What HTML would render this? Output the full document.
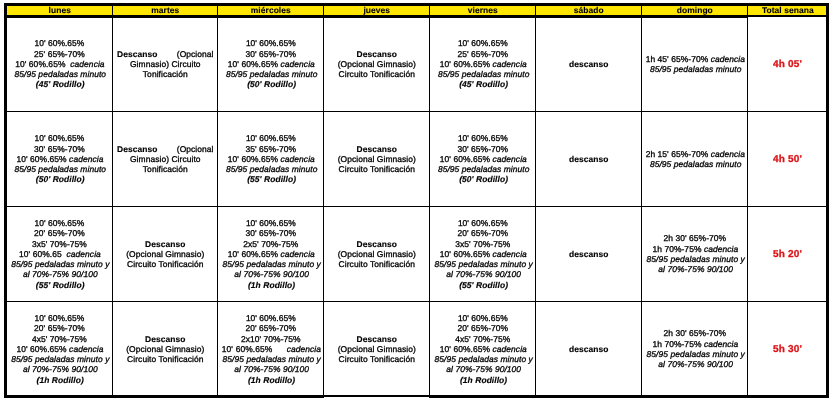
<!DOCTYPE html>
<html lang="es">
<head>
<meta charset="utf-8">
<title>Plan semanal</title>
<style>
html,body{margin:0;padding:0;background:#fff;}
body{width:834px;height:402px;position:relative;overflow:hidden;font-family:"Liberation Sans",Arial,Helvetica,sans-serif;color:#000;text-rendering:geometricPrecision;}
.k{position:absolute;background:#000;}
.y{position:absolute;background:#ffe600;}
.h{position:absolute;height:10px;line-height:10px;font-size:8.45px;letter-spacing:0.07px;font-weight:bold;text-align:center;white-space:nowrap;-webkit-text-stroke:0.1px #000;}
.l{position:absolute;letter-spacing:0.07px;white-space:pre;text-align:center;font-size:8.45px;line-height:10px;height:10px;-webkit-text-stroke:0.3px #000;}
.t{position:absolute;text-align:center;font-size:10px;letter-spacing:0.22px;line-height:12px;height:12px;font-weight:bold;color:#dc1418;white-space:nowrap;-webkit-text-stroke:0.3px #dc1418;}
i{font-style:italic;}
b{font-weight:bold;-webkit-text-stroke-width:0.15px;}
</style>
</head>
<body>

<div class="k" style="left:4px;top:3px;width:825px;height:3px"></div>
<div class="k" style="left:4px;top:395px;width:825px;height:2px"></div>
<div class="k" style="left:4px;top:397px;width:320px;height:1px"></div>
<div class="k" style="left:429px;top:397px;width:400px;height:1px"></div>
<div class="k" style="left:4px;top:3px;width:3px;height:395px"></div>
<div class="k" style="left:826px;top:3px;width:3px;height:395px"></div>
<div class="y" style="left:7px;top:6px;width:819px;height:9px"></div>
<div class="k" style="left:7px;top:15px;width:740px;height:3px"></div>
<div class="k" style="left:747px;top:15px;width:79px;height:2px"></div>
<div class="k" style="left:112px;top:6px;width:1px;height:389px"></div>
<div class="k" style="left:217px;top:6px;width:1px;height:389px"></div>
<div class="k" style="left:323px;top:6px;width:1px;height:389px"></div>
<div class="k" style="left:429px;top:6px;width:1px;height:389px"></div>
<div class="k" style="left:535px;top:6px;width:1px;height:389px"></div>
<div class="k" style="left:641px;top:6px;width:1px;height:389px"></div>
<div class="k" style="left:747px;top:6px;width:1px;height:389px"></div>
<div class="k" style="left:7px;top:111px;width:819px;height:1px"></div>
<div class="k" style="left:7px;top:206px;width:819px;height:1px"></div>
<div class="k" style="left:7px;top:301px;width:819px;height:1px"></div>
<div class="h" id="h0" style="left:7.3px;width:105px;top:5px">lunes</div>
<div class="h" id="h1" style="left:113.3px;width:104px;top:5px">martes</div>
<div class="h" id="h2" style="left:218.3px;width:105px;top:5px">miércoles</div>
<div class="h" id="h3" style="left:324.3px;width:105px;top:5px">jueves</div>
<div class="h" id="h4" style="left:430.3px;width:105px;top:5px">viernes</div>
<div class="h" id="h5" style="left:536.3px;width:105px;top:5px">sábado</div>
<div class="h" id="h6" style="left:642.3px;width:105px;top:5px">domingo</div>
<div class="h" id="h7" style="left:748.8px;width:78px;top:5px">Total senana</div>
<div class="l" id="c0_0_0" style="left:6.9px;top:38px;width:105px;letter-spacing:0.03px">10' 60%.65%</div>
<div class="l" id="c0_0_1" style="left:6.9px;top:49px;width:105px">25' 65%-70%</div>
<div class="l" id="c0_0_2" style="left:7.45px;top:59px;width:105px">10' 60%.65%  <i>cadencia</i></div>
<div class="l" id="c0_0_3" style="left:7.8px;top:69px;width:105px"><i>85/95 pedaladas minuto</i></div>
<div class="l" id="c0_0_4" style="left:7.7px;top:79px;width:105px"><b><i>(45' Rodillo)</i></b></div>
<div class="l" id="c0_1_0" style="left:113.3px;top:49px;width:104px"><b>Descanso</b>        (Opcional</div>
<div class="l" id="c0_1_1" style="left:113.3px;top:59px;width:104px">Gimnasio) Circuito</div>
<div class="l" id="c0_1_2" style="left:113.3px;top:69px;width:104px">Tonificación</div>
<div class="l" id="c0_2_0" style="left:218.3px;top:38px;width:105px;letter-spacing:0.03px">10' 60%.65%</div>
<div class="l" id="c0_2_1" style="left:218.3px;top:49px;width:105px">30' 65%-70%</div>
<div class="l" id="c0_2_2" style="left:218.85px;top:59px;width:105px">10' 60%.65% <i>cadencia</i></div>
<div class="l" id="c0_2_3" style="left:219.2px;top:69px;width:105px"><i>85/95 pedaladas minuto</i></div>
<div class="l" id="c0_2_4" style="left:219.1px;top:79px;width:105px"><b><i>(50' Rodillo)</i></b></div>
<div class="l" id="c0_3_0" style="left:324.3px;top:49px;width:105px"><b>Descanso</b></div>
<div class="l" id="c0_3_1" style="left:324.3px;top:59px;width:105px">(Opcional Gimnasio)</div>
<div class="l" id="c0_3_2" style="left:324.3px;top:69px;width:105px">Circuito Tonificación</div>
<div class="l" id="c0_4_0" style="left:430.3px;top:38px;width:105px;letter-spacing:0.03px">10' 60%.65%</div>
<div class="l" id="c0_4_1" style="left:430.3px;top:49px;width:105px">25' 65%-70%</div>
<div class="l" id="c0_4_2" style="left:430.85px;top:59px;width:105px">10' 60%.65% <i>cadencia</i></div>
<div class="l" id="c0_4_3" style="left:431.2px;top:69px;width:105px"><i>85/95 pedaladas minuto</i></div>
<div class="l" id="c0_4_4" style="left:431.1px;top:79px;width:105px"><b><i>(45' Rodillo)</i></b></div>
<div class="l" id="c0_5_0" style="left:536.3px;top:59px;width:105px"><b>descanso</b></div>
<div class="l" id="c0_6_0" style="left:642.85px;top:54px;width:105px">1h 45' 65%-70% <i>cadencia</i></div>
<div class="l" id="c0_6_1" style="left:643.2px;top:64px;width:105px"><i>85/95 pedaladas minuto</i></div>
<div class="t" id="c0_7_0" style="left:748.6px;top:59px;width:78px">4h 05'</div>
<div class="l" id="c1_0_0" style="left:6.9px;top:133px;width:105px;letter-spacing:0.03px">10' 60%.65%</div>
<div class="l" id="c1_0_1" style="left:6.9px;top:144px;width:105px">30' 65%-70%</div>
<div class="l" id="c1_0_2" style="left:7.45px;top:154px;width:105px">10' 60%.65% <i>cadencia</i></div>
<div class="l" id="c1_0_3" style="left:7.8px;top:164px;width:105px"><i>85/95 pedaladas minuto</i></div>
<div class="l" id="c1_0_4" style="left:7.7px;top:174px;width:105px"><b><i>(50' Rodillo)</i></b></div>
<div class="l" id="c1_1_0" style="left:113.3px;top:144px;width:104px"><b>Descanso</b>        (Opcional</div>
<div class="l" id="c1_1_1" style="left:113.3px;top:154px;width:104px">Gimnasio) Circuito</div>
<div class="l" id="c1_1_2" style="left:113.3px;top:164px;width:104px">Tonificación</div>
<div class="l" id="c1_2_0" style="left:218.3px;top:133px;width:105px;letter-spacing:0.03px">10' 60%.65%</div>
<div class="l" id="c1_2_1" style="left:218.3px;top:144px;width:105px">35' 65%-70%</div>
<div class="l" id="c1_2_2" style="left:218.85px;top:154px;width:105px">10' 60%.65% <i>cadencia</i></div>
<div class="l" id="c1_2_3" style="left:219.2px;top:164px;width:105px"><i>85/95 pedaladas minuto</i></div>
<div class="l" id="c1_2_4" style="left:219.1px;top:174px;width:105px"><b><i>(55' Rodillo)</i></b></div>
<div class="l" id="c1_3_0" style="left:324.3px;top:144px;width:105px"><b>Descanso</b></div>
<div class="l" id="c1_3_1" style="left:324.3px;top:154px;width:105px">(Opcional Gimnasio)</div>
<div class="l" id="c1_3_2" style="left:324.3px;top:164px;width:105px">Circuito Tonificación</div>
<div class="l" id="c1_4_0" style="left:430.3px;top:133px;width:105px;letter-spacing:0.03px">10' 60%.65%</div>
<div class="l" id="c1_4_1" style="left:430.3px;top:144px;width:105px">30' 65%-70%</div>
<div class="l" id="c1_4_2" style="left:430.85px;top:154px;width:105px">10' 60%.65% <i>cadencia</i></div>
<div class="l" id="c1_4_3" style="left:431.2px;top:164px;width:105px"><i>85/95 pedaladas minuto</i></div>
<div class="l" id="c1_4_4" style="left:431.1px;top:174px;width:105px"><b><i>(50' Rodillo)</i></b></div>
<div class="l" id="c1_5_0" style="left:536.3px;top:154px;width:105px"><b>descanso</b></div>
<div class="l" id="c1_6_0" style="left:642.85px;top:149px;width:105px">2h 15' 65%-70% <i>cadencia</i></div>
<div class="l" id="c1_6_1" style="left:643.2px;top:159px;width:105px"><i>85/95 pedaladas minuto</i></div>
<div class="t" id="c1_7_0" style="left:748.6px;top:154px;width:78px">4h 50'</div>
<div class="l" id="c2_0_0" style="left:6.9px;top:218px;width:105px;letter-spacing:0.03px">10' 60%.65%</div>
<div class="l" id="c2_0_1" style="left:6.9px;top:228px;width:105px">20' 65%-70%</div>
<div class="l" id="c2_0_2" style="left:6.9px;top:239px;width:105px">3x5' 70%-75%</div>
<div class="l" id="c2_0_3" style="left:7.45px;top:249px;width:105px">10' 60%.65  <i>cadencia</i></div>
<div class="l" id="c2_0_4" style="left:7.8px;top:259px;width:105px"><i>85/95 pedaladas minuto y</i></div>
<div class="l" id="c2_0_5" style="left:7.8px;top:269px;width:105px"><i>al 70%-75% 90/100</i></div>
<div class="l" id="c2_0_6" style="left:7.7px;top:280px;width:105px"><b><i>(55' Rodillo)</i></b></div>
<div class="l" id="c2_1_0" style="left:113.3px;top:239px;width:104px"><b>Descanso</b></div>
<div class="l" id="c2_1_1" style="left:113.3px;top:249px;width:104px">(Opcional Gimnasio)</div>
<div class="l" id="c2_1_2" style="left:113.3px;top:259px;width:104px">Circuito Tonificación</div>
<div class="l" id="c2_2_0" style="left:218.3px;top:218px;width:105px;letter-spacing:0.03px">10' 60%.65%</div>
<div class="l" id="c2_2_1" style="left:218.3px;top:228px;width:105px">30' 65%-70%</div>
<div class="l" id="c2_2_2" style="left:218.3px;top:239px;width:105px">2x5' 70%-75%</div>
<div class="l" id="c2_2_3" style="left:218.85px;top:249px;width:105px">10' 60%.65% <i>cadencia</i></div>
<div class="l" id="c2_2_4" style="left:219.2px;top:259px;width:105px"><i>85/95 pedaladas minuto y</i></div>
<div class="l" id="c2_2_5" style="left:219.2px;top:269px;width:105px"><i>al 70%-75% 90/100</i></div>
<div class="l" id="c2_2_6" style="left:219.1px;top:280px;width:105px"><b><i>(1h Rodillo)</i></b></div>
<div class="l" id="c2_3_0" style="left:324.3px;top:239px;width:105px"><b>Descanso</b></div>
<div class="l" id="c2_3_1" style="left:324.3px;top:249px;width:105px">(Opcional Gimnasio)</div>
<div class="l" id="c2_3_2" style="left:324.3px;top:259px;width:105px">Circuito Tonificación</div>
<div class="l" id="c2_4_0" style="left:430.3px;top:218px;width:105px;letter-spacing:0.03px">10' 60%.65%</div>
<div class="l" id="c2_4_1" style="left:430.3px;top:228px;width:105px">20' 65%-70%</div>
<div class="l" id="c2_4_2" style="left:430.3px;top:239px;width:105px">3x5' 70%-75%</div>
<div class="l" id="c2_4_3" style="left:430.85px;top:249px;width:105px">10' 60%.65% <i>cadencia</i></div>
<div class="l" id="c2_4_4" style="left:431.2px;top:259px;width:105px"><i>85/95 pedaladas minuto y</i></div>
<div class="l" id="c2_4_5" style="left:431.2px;top:269px;width:105px"><i>al 70%-75% 90/100</i></div>
<div class="l" id="c2_4_6" style="left:431.1px;top:280px;width:105px"><b><i>(55' Rodillo)</i></b></div>
<div class="l" id="c2_5_0" style="left:536.3px;top:249px;width:105px"><b>descanso</b></div>
<div class="l" id="c2_6_0" style="left:642.3px;top:233px;width:105px">2h 30' 65%-70%</div>
<div class="l" id="c2_6_1" style="left:642.85px;top:244px;width:105px">1h 70%-75% <i>cadencia</i></div>
<div class="l" id="c2_6_2" style="left:643.2px;top:254px;width:105px"><i>85/95 pedaladas minuto y</i></div>
<div class="l" id="c2_6_3" style="left:643.2px;top:264px;width:105px"><i>al 70%-75% 90/100</i></div>
<div class="t" id="c2_7_0" style="left:748.6px;top:249px;width:78px">5h 20'</div>
<div class="l" id="c3_0_0" style="left:6.9px;top:313px;width:105px;letter-spacing:0.03px">10' 60%.65%</div>
<div class="l" id="c3_0_1" style="left:6.9px;top:323px;width:105px">20' 65%-70%</div>
<div class="l" id="c3_0_2" style="left:6.9px;top:334px;width:105px">4x5' 70%-75%</div>
<div class="l" id="c3_0_3" style="left:7.45px;top:344px;width:105px">10' 60%.65% <i>cadencia</i></div>
<div class="l" id="c3_0_4" style="left:7.8px;top:354px;width:105px"><i>85/95 pedaladas minuto y</i></div>
<div class="l" id="c3_0_5" style="left:7.8px;top:364px;width:105px"><i>al 70%-75% 90/100</i></div>
<div class="l" id="c3_0_6" style="left:7.7px;top:375px;width:105px"><b><i>(1h Rodillo)</i></b></div>
<div class="l" id="c3_1_0" style="left:113.3px;top:334px;width:104px"><b>Descanso</b></div>
<div class="l" id="c3_1_1" style="left:113.3px;top:344px;width:104px">(Opcional Gimnasio)</div>
<div class="l" id="c3_1_2" style="left:113.3px;top:354px;width:104px">Circuito Tonificación</div>
<div class="l" id="c3_2_0" style="left:218.3px;top:313px;width:105px;letter-spacing:0.03px">10' 60%.65%</div>
<div class="l" id="c3_2_1" style="left:218.3px;top:323px;width:105px">20' 65%-70%</div>
<div class="l" id="c3_2_2" style="left:218.3px;top:334px;width:105px">2x10' 70%-75%</div>
<div class="l" id="c3_2_3" style="left:218.85px;top:344px;width:105px;word-spacing:0.44px">10' 60%.65%     <i>cadencia</i></div>
<div class="l" id="c3_2_4" style="left:219.2px;top:354px;width:105px"><i>85/95 pedaladas minuto y</i></div>
<div class="l" id="c3_2_5" style="left:219.2px;top:364px;width:105px"><i>al 70%-75% 90/100</i></div>
<div class="l" id="c3_2_6" style="left:219.1px;top:375px;width:105px"><b><i>(1h Rodillo)</i></b></div>
<div class="l" id="c3_3_0" style="left:324.3px;top:334px;width:105px"><b>Descanso</b></div>
<div class="l" id="c3_3_1" style="left:324.3px;top:344px;width:105px">(Opcional Gimnasio)</div>
<div class="l" id="c3_3_2" style="left:324.3px;top:354px;width:105px">Circuito Tonificación</div>
<div class="l" id="c3_4_0" style="left:430.3px;top:313px;width:105px;letter-spacing:0.03px">10' 60%.65%</div>
<div class="l" id="c3_4_1" style="left:430.3px;top:323px;width:105px">20' 65%-70%</div>
<div class="l" id="c3_4_2" style="left:430.3px;top:334px;width:105px">4x5' 70%-75%</div>
<div class="l" id="c3_4_3" style="left:430.85px;top:344px;width:105px">10' 60%.65% <i>cadencia</i></div>
<div class="l" id="c3_4_4" style="left:431.2px;top:354px;width:105px"><i>85/95 pedaladas minuto y</i></div>
<div class="l" id="c3_4_5" style="left:431.2px;top:364px;width:105px"><i>al 70%-75% 90/100</i></div>
<div class="l" id="c3_4_6" style="left:431.1px;top:375px;width:105px"><b><i>(1h Rodillo)</i></b></div>
<div class="l" id="c3_5_0" style="left:536.3px;top:344px;width:105px"><b>descanso</b></div>
<div class="l" id="c3_6_0" style="left:642.3px;top:328px;width:105px">2h 30' 65%-70%</div>
<div class="l" id="c3_6_1" style="left:642.85px;top:339px;width:105px">1h 70%-75% <i>cadencia</i></div>
<div class="l" id="c3_6_2" style="left:643.2px;top:349px;width:105px"><i>85/95 pedaladas minuto y</i></div>
<div class="l" id="c3_6_3" style="left:643.2px;top:359px;width:105px"><i>al 70%-75% 90/100</i></div>
<div class="t" id="c3_7_0" style="left:748.6px;top:344px;width:78px">5h 30'</div>
</body>
</html>
